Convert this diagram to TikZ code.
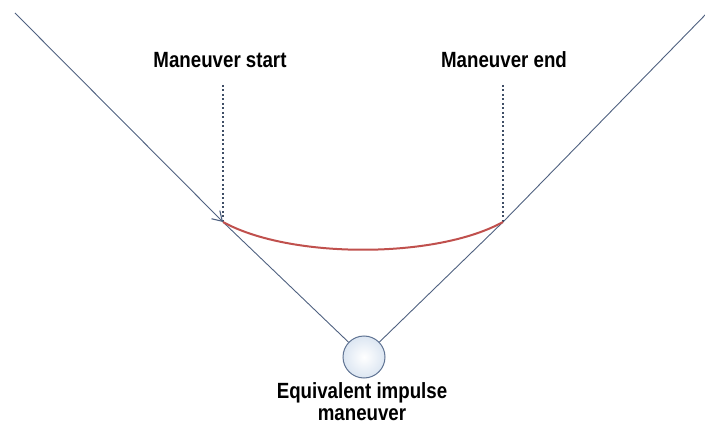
\documentclass[tikz,border=0pt]{standalone}
\usepackage{fontspec}
\setmainfont{Liberation Sans}
\usetikzlibrary{arrows.meta}
\definecolor{lineblue}{HTML}{4F6180}
\definecolor{curvered}{HTML}{C0504D}
\definecolor{circfill}{HTML}{DCE6F2}
\definecolor{circedge}{HTML}{5F7393}
\tikzset{
  path/.style={draw=lineblue, line width=0.9pt},
  guide/.style={draw=lineblue!80!black, line width=1.1pt, dash pattern=on 2pt off 2.5pt},
  lbl/.style={anchor=base, inner sep=0pt, font=\fontsize{22}{22}\selectfont\bfseries},
  burn/.style={draw=curvered, line width=2pt},
  impulse/.style={circle, draw=circedge, line width=1pt, inner color=white, outer color=circfill, minimum size=42pt, inner sep=0pt}
}
\begin{document}
\begin{tikzpicture}[x=1pt,y=-1pt]
\useasboundingbox (0,0) rectangle (705,425);
\coordinate (tl) at (15,13);
\coordinate (tr) at (708,12);
\coordinate (ms) at (223,222);
\coordinate (me) at (503,222);
\coordinate (mst) at (223,85);
\coordinate (met) at (503,85);
\node[impulse] (imp) at (364,357) {};
\node[lbl] (lstart) at (220,68) {\scalebox{0.85}[1]{Maneuver start}};
\node[lbl] (lend) at (504,68) {\scalebox{0.85}[1]{Maneuver end}};
\node[lbl] (limp) at (362,398) {\scalebox{0.85}[1]{\begin{tabular}[t]{@{}c@{}}Equivalent impulse\\maneuver\end{tabular}}};
\draw[path] (ms) -- (imp);
\draw[path] (imp) -- (me) -- (tr);
\draw[guide] (mst) -- (ms);
\draw[guide] (met) -- (me);
\draw[burn] (ms) .. controls (290,259) and (436,259) .. (me);
\draw[path, -{Straight Barb[angle=64:11pt, line width=1.1pt]}] (tl) -- (ms);
\end{tikzpicture}
\end{document}
